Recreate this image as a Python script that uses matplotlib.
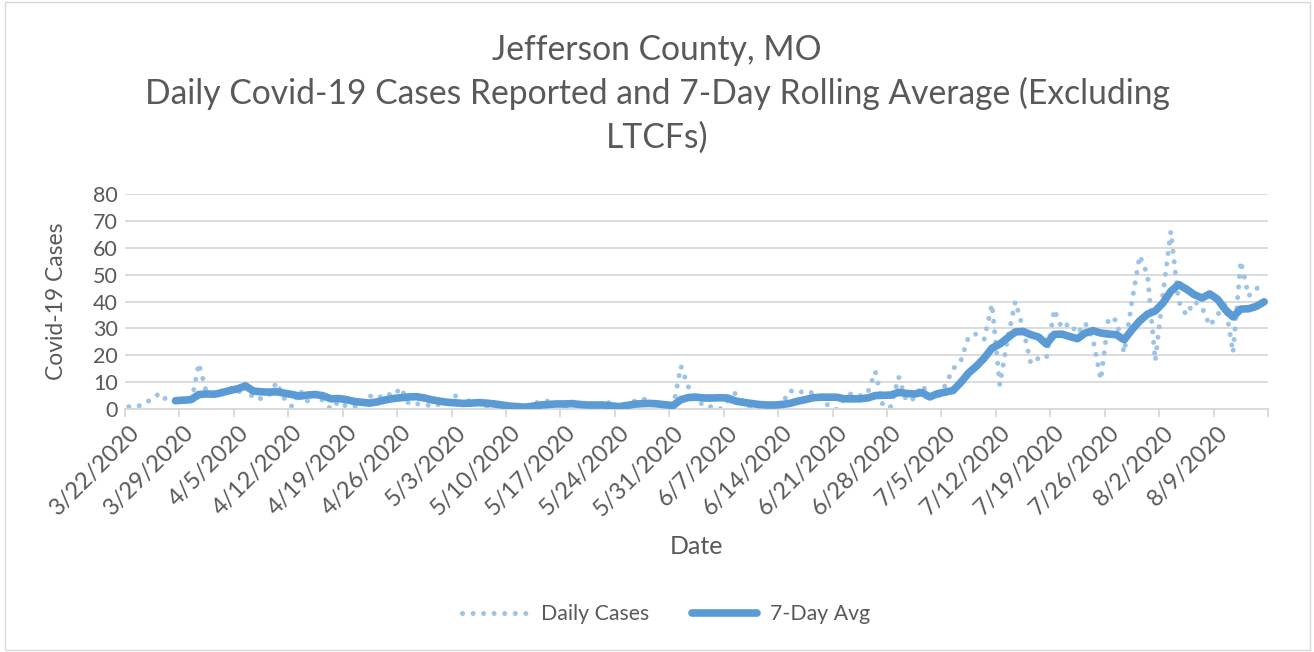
import matplotlib
matplotlib.use("Agg")
import matplotlib.pyplot as plt
import numpy as np
import pandas as pd
from matplotlib.patches import Rectangle

# daily reported cases, 3/22/2020 .. 8/15/2020
daily_cases = [1, 1, 2, 4, 6, 3, 3, 3, 2, 17, 6, 5, 7, 8, 6, 9, 4, 4, 5, 10,
               4, 1, 7, 3, 6, 3, 0, 3, 1, 1, 1, 5, 4, 6, 5, 8, 2, 2, 2, 1,
               2, 2, 5, 1, 4, 2, 1, 1, 0, 1, 0, 1, 2, 3, 3, 2, 0, 3, 0, 2,
               1, 1, 3, 0, 1, 3, 4, 3, 1, 0, 1, 16, 8, 4, 1, 1, 0, 3, 6, 3,
               0, 1, 1, 0, 2, 7, 6, 7, 6, 5, 1, 0, 4, 6, 5, 6, 14, 1, 1, 12,
               3, 4, 9, 5, 4, 9, 15, 18, 27, 28, 26, 39, 9, 26, 40, 30, 17, 19, 19, 37,
               30, 32, 28, 32, 26, 11, 34, 33, 21, 40, 57, 50, 18, 43, 66, 40, 35, 40, 38, 31,
               35, 39, 21, 55, 42, 45, 44]

# 7-day rolling average, starting on the 7th day (3/28/2020)
avg_7day = [3.2, 3.4, 3.6, 5.5, 5.7, 5.6, 6.2, 7.0, 7.6, 8.7,
            6.8, 6.5, 6.4, 6.5, 6.0, 5.5, 4.9, 5.3, 5.5, 5.0,
            3.9, 4.0, 3.6, 2.9, 2.6, 2.3, 2.8, 3.5, 4.0, 4.3,
            4.6, 4.7, 4.2, 3.5, 3.0, 2.6, 2.4, 2.2, 2.3, 2.5,
            2.3, 2.0, 1.6, 1.2, 1.0, 0.8, 1.2, 1.6, 1.8, 2.0,
            2.0, 2.1, 1.8, 1.6, 1.6, 1.6, 1.3, 1.0, 1.4, 1.9,
            2.1, 2.2, 2.0, 1.7, 1.4, 3.6, 4.4, 4.5, 4.2, 4.2,
            4.3, 4.2, 3.1, 2.6, 2.2, 1.8, 1.6, 1.6, 1.8, 2.2,
            3.0, 3.6, 4.3, 4.5, 4.5, 4.5, 3.9, 3.9, 3.9, 4.2,
            5.1, 5.2, 5.3, 6.3, 5.9, 5.7, 6.2, 4.6, 5.8, 6.4,
            7.0, 10.0, 13.5, 16.0, 19.0, 22.7, 24.2, 26.5, 28.7, 28.9,
            27.7, 26.8, 24.2, 27.8, 27.9, 27.0, 26.2, 28.3, 29.2, 28.3,
            27.9, 27.7, 25.8, 29.5, 32.8, 35.3, 36.5, 39.5, 43.8, 46.3,
            44.6, 42.6, 41.3, 42.8, 40.9, 37.0, 34.3, 37.2, 37.3, 38.2,
            39.9]

dates = pd.date_range("2020-03-22", periods=len(daily_cases), freq="D")
date_labels = [f"{d.month}/{d.day}/{d.year}" for d in dates]

plt.rcParams['font.family'] = ['Lato', 'DejaVu Sans']
grey = "#595959"
blue = "#5B9BD5"
dot_blue = "#9DC3E6"

fig = plt.figure(figsize=(13.14, 6.52), dpi=100)
ax = fig.add_axes([0.0951, 0.3722, 0.8699, 0.3307])

x = np.arange(len(daily_cases))
ax.plot(x, daily_cases, color=dot_blue, linewidth=3.6,
        linestyle=(0, (0.01, 2.1)), dash_capstyle="round",
        label="Daily Cases", zorder=2)
ax.plot(x[6:], avg_7day, color=blue, linewidth=5.5,
        solid_capstyle="round", solid_joinstyle="round",
        label="7-Day Avg", zorder=3)

ax.set_xlim(-0.5, len(daily_cases) - 0.5)
ax.set_ylim(0, 80)
ax.set_yticks(range(0, 81, 10))
ax.grid(axis="y", color="#d9d9d9", linewidth=1.3)
ax.set_axisbelow(True)

# labels every 7 days, tick marks between categories
ax.set_xticks(x[::7])
ax.set_xticklabels(date_labels[::7], rotation=45, ha="right", va="top",
                   rotation_mode="anchor")
ax.set_xticks(np.arange(-0.5, len(daily_cases), 7), minor=True)
ax.tick_params(axis="x", which="major", length=0, pad=9, labelsize=17, labelcolor=grey)
ax.tick_params(axis="x", which="minor", length=6, color="#d9d9d9", width=1.3)
ax.tick_params(axis="y", length=0, pad=5, labelsize=15.5, labelcolor=grey)

for s in ["top", "right", "left"]:
    ax.spines[s].set_visible(False)
ax.spines["bottom"].set_color("#d9d9d9")
ax.spines["bottom"].set_linewidth(1.3)

ax.set_ylabel("Covid-19 Cases", fontsize=16.5, color=grey, va="center")
ax.yaxis.set_label_coords(-0.0595, 0.5)
ax.set_xlabel("Date", fontsize=18, color=grey, va="center")
ax.xaxis.set_label_coords(0.5, -0.635)

fig.text(0.5, 0.948, "Jefferson County, MO\n"
         "Daily Covid-19 Cases Reported and 7-Day Rolling Average (Excluding\n"
         "LTCFs)", ha="center", va="top", fontsize=24.2, color=grey,
         linespacing=1.42)

fig.legend(loc="center", bbox_to_anchor=(0.507, 0.058), ncol=2, frameon=False,
           fontsize=15.3, labelcolor=grey, handlelength=3.1, handletextpad=0.6,
           columnspacing=2.0)

fig.patches.append(Rectangle((0.004, 0.003), 0.993, 0.994, transform=fig.transFigure,
                             fill=False, edgecolor="#d9d9d9", linewidth=1))

fig.savefig("out.png", dpi=100)
